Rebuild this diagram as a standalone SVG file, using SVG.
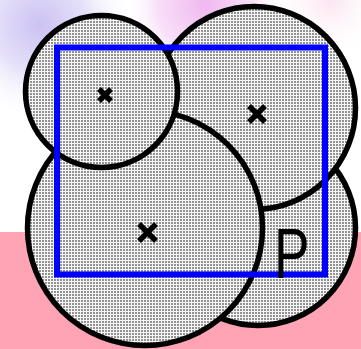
<svg xmlns="http://www.w3.org/2000/svg" width="361" height="349" viewBox="0 0 361 349">
  <defs>
    <pattern id="dots" x="0" y="0" width="3" height="3" patternUnits="userSpaceOnUse">
      <rect width="3" height="3" fill="#f6f6f6"/>
      <rect x="0" y="0" width="2" height="2" fill="#a8a8a8"/>
      <rect x="0.5" y="0.5" width="1" height="1" fill="#505050"/>
    </pattern>
    <radialGradient id="lav" cx="40" cy="25" r="95" gradientUnits="userSpaceOnUse">
      <stop offset="0" stop-color="#cbc2f3"/>
      <stop offset="0.5" stop-color="#e6e1f9"/>
      <stop offset="1" stop-color="#ffffff" stop-opacity="0"/>
    </radialGradient>
    <radialGradient id="mag" cx="205" cy="5" r="80" gradientUnits="userSpaceOnUse">
      <stop offset="0" stop-color="#f0b8f0"/>
      <stop offset="0.6" stop-color="#f8e0f8"/>
      <stop offset="1" stop-color="#ffffff" stop-opacity="0"/>
    </radialGradient>
    <radialGradient id="pk" cx="330" cy="0" r="60" gradientUnits="userSpaceOnUse">
      <stop offset="0" stop-color="#fbe4f0"/>
      <stop offset="1" stop-color="#ffffff" stop-opacity="0"/>
    </radialGradient>
    <style>
      .c { fill: url(#dots); stroke: #000; stroke-width: 5.5; }
      .x { stroke: #000; stroke-width: 5.5; stroke-linecap: butt; fill: none; }
      .box { fill: none; stroke: #0000ff; stroke-width: 6; }
      .lbl { font-family: "Liberation Sans", Arial, sans-serif; font-size: 70px; fill: #000; }
    </style>
  </defs>
  <g id="background">
    <rect width="361" height="349" fill="#ffffff"/>
    <rect width="361" height="140" fill="url(#lav)"/>
    <rect width="361" height="100" fill="url(#mag)"/>
    <rect width="361" height="80" fill="url(#pk)"/>
    <rect x="0" y="232" width="361" height="117" fill="#ffa4b4"/>
  </g>
  <g id="circle-bottom-right"><circle class="c" cx="258" cy="228" r="97.5"/></g>
  <g id="circle-top-right"><circle class="c" cx="254" cy="108" r="101.5"/></g>
  <g id="circle-big"><circle class="c" cx="145" cy="228" r="117.5"/></g>
  <g id="circle-top-left"><circle class="c" cx="101.5" cy="91.5" r="76"/></g>
  <g id="crosses">
    <path class="x" d="M99,89 L111,101 M111,89 L99,101"/>
    <path class="x" d="M249,106 L265,122 M265,106 L249,122"/>
    <path class="x" d="M139,224 L156,241 M156,224 L139,241"/>
  </g>
  <g id="rect"><rect class="box" x="57" y="47.5" width="268" height="227"/></g>
  <g id="label-P"><text class="lbl" x="274" y="278" transform="translate(274,0) scale(0.76,1) translate(-274,0)">P</text></g>
</svg>
